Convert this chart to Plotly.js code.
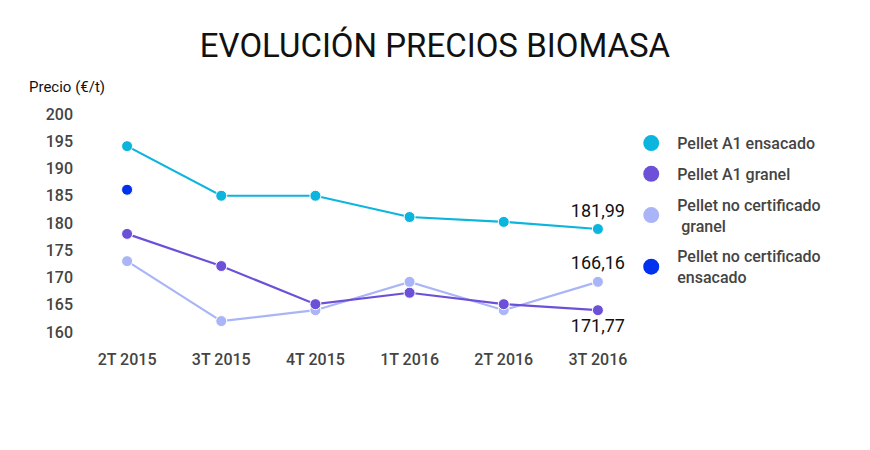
<!DOCTYPE html>
<html>
<head>
<meta charset="utf-8">
<script src="https://cdn.plot.ly/plotly-3.0.1.min.js"></script>
<style>html,body{margin:0;padding:0;background:#fff}#chart{width:870px;height:450px}</style>
</head>
<body>
<div id="chart"></div>
<script>
var categories = ['2T 2015', '3T 2015', '4T 2015', '1T 2016', '2T 2016', '3T 2016'];
var seriesNames = ['Pellet A1 ensacado', 'Pellet A1 granel', 'Pellet no certificado<br> granel', 'Pellet no certificado<br>ensacado'];
var a1Ensacado = [194.1, 185.0, 185.0, 181.1, 180.2, 178.9];
var a1Granel = [178.0, 172.1, 165.1, 167.2, 165.1, 164.0];
var noCertGranel = [173.0, 162.0, 164.0, 169.2, 164.0, 169.2];
var noCertEnsacado = [186.1, null, null, null, null, null];
var labelsEnsacado = ['', '', '', '', '', '181,99'];
var labelsGranel = ['', '', '', '', '', '171,77'];
var labelsNoCert = ['', '', '', '', '', '166,16'];
var colors = ['#0bb5dd', '#6d50d8', '#a9b5f7', '#0031ee'];
var yTicks = [160, 165, 170, 175, 180, 185, 190, 195, 200];

var labelFont = {family: 'Roboto, sans-serif', size: 18, color: '#111'};

function lineTrace(y, color, labels, pos) {
  return {
    x: categories, y: y, type: 'scatter', mode: 'lines+markers+text',
    line: {color: color, width: 2.2},
    marker: {color: color, size: 11, line: {color: '#fff', width: 1}},
    text: labels, textposition: pos, textfont: labelFont,
    showlegend: false, hoverinfo: 'x+y', cliponaxis: false
  };
}
var traces = [
  lineTrace(noCertGranel, colors[2], labelsNoCert, 'top center'),
  lineTrace(a1Granel, colors[1], labelsGranel, 'bottom center'),
  lineTrace(a1Ensacado, colors[0], labelsEnsacado, 'top center'),
  {x: categories, y: noCertEnsacado, type: 'scatter', mode: 'markers',
   marker: {color: colors[3], size: 11, line: {color: '#fff', width: 1}}, showlegend: false}
];
for (var i = 0; i < seriesNames.length; i++) {
  traces.push({x: [null], y: [null], type: 'scatter', mode: 'markers', name: seriesNames[i],
    legendgroup: 'g' + i, marker: {color: colors[i], size: 20}, showlegend: true});
}

var layout = {
  width: 870, height: 450,
  margin: {l: 80, r: 225, t: 105, b: 110},
  paper_bgcolor: '#fff', plot_bgcolor: '#fff',
  title: {text: 'EVOLUCIÓN PRECIOS BIOMASA', x: 0.5, xanchor: 'center', y: 0.9, yanchor: 'middle',
    font: {family: 'Roboto, sans-serif', size: 33, color: '#111', weight: 400}},
  xaxis: {type: 'category', range: [-0.5, 5.5], showgrid: false, zeroline: false, showline: false,
    ticks: '', ticklabelstandoff: 8,
    tickfont: {family: 'Roboto, sans-serif', size: 16, color: '#444', weight: 500}},
  yaxis: {range: [158.53, 201.65], tickvals: yTicks, showgrid: false, zeroline: false, showline: false,
    ticks: '', ticklabelstandoff: 6,
    tickfont: {family: 'Roboto, sans-serif', size: 16, color: '#444', weight: 500}},
  legend: {x: 0.965, xanchor: 'left', y: 0.91, yanchor: 'top', itemsizing: 'trace', itemwidth: 42, tracegroupgap: 7,
    font: {family: 'Roboto, sans-serif', size: 16, color: '#444', weight: 500}, bgcolor: 'rgba(0,0,0,0)'},
  annotations: [{text: 'Precio (€/t)', xref: 'paper', yref: 'paper', x: -0.094, xanchor: 'left', y: 1.075, yanchor: 'middle',
    showarrow: false, font: {family: 'Roboto, sans-serif', size: 15, color: '#111'}}],
  showlegend: true
};
Plotly.newPlot('chart', traces, layout, {displayModeBar: false, staticPlot: true});
</script>
</body>
</html>
